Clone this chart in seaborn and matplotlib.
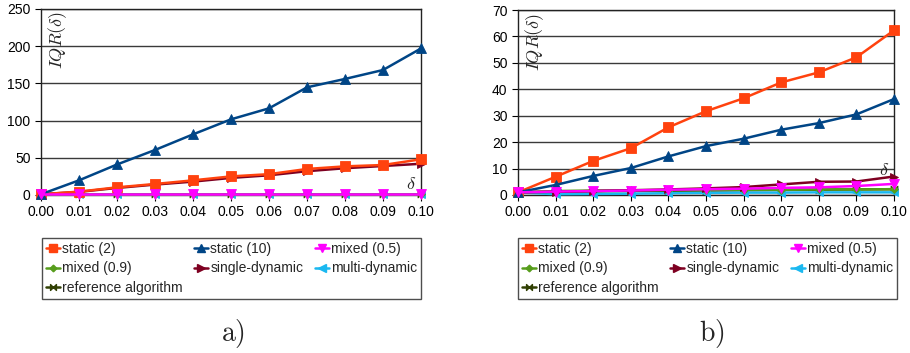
import numpy as np
import pandas as pd
import matplotlib
matplotlib.use("Agg")
import matplotlib.pyplot as plt
from matplotlib.path import Path
from matplotlib.lines import Line2D
import seaborn as sns

delta = [0.00, 0.01, 0.02, 0.03, 0.04, 0.05, 0.06, 0.07, 0.08, 0.09, 0.10]
series_names = ["static (2)", "static (10)", "mixed (0.5)", "mixed (0.9)",
                "single-dynamic", "multi-dynamic", "reference algorithm"]

# panel a
a_static2 = [1, 4.5, 10.3, 14.8, 19.7, 25, 28, 35, 38.5, 40.3, 48]
a_static10 = [1, 19.7, 41, 60.5, 81.5, 101.7, 116.5, 144.7, 156, 168, 197]
a_mixed05 = [1, 1, 1, 1, 1, 1, 1, 1, 1, 1, 1]
a_mixed09 = [1, 1, 1, 1, 1, 1, 1, 1, 1, 1, 1]
a_single = [1, 4.2, 9.5, 14, 18, 23, 26.5, 32, 36, 39, 42]
a_multi = [1, 0.8, 0.8, 0.8, 0.8, 0.8, 0.8, 0.8, 0.8, 0.8, 0.8]
a_ref = [1, 1, 1, 1, 1, 1, 1, 1, 1, 1, 1]

# panel b
b_static2 = [1.0, 6.9, 12.9, 17.7, 25.6, 31.7, 36.6, 42.6, 46.4, 52.1, 62.3]
b_static10 = [1.0, 3.8, 7.2, 10.2, 14.6, 18.5, 21.3, 24.7, 27.2, 30.5, 36.3]
b_mixed05 = [1.0, 1.3, 1.5, 1.7, 2.0, 2.2, 2.4, 2.7, 2.9, 3.4, 4.2]
b_mixed09 = [1.0, 1.5, 1.7, 1.8, 1.8, 1.9, 2.0, 2.0, 2.1, 2.1, 2.2]
b_single = [1.0, 1.2, 1.5, 1.8, 2.1, 2.5, 3.0, 4.0, 5.0, 5.1, 7.0]
b_multi = [1.0, 0.3, 0.4, 0.5, 0.7, 0.8, 0.9, 0.9, 1.0, 1.0, 1.0]
b_ref = [1.0, 1.2, 1.4, 1.5, 1.6, 1.7, 1.8, 1.9, 2.0, 2.1, 2.2]

a_yticks = [0, 50, 100, 150, 200, 250]
b_yticks = [0, 10, 20, 30, 40, 50, 60, 70]
xtick_labels = ["0.00", "0.01", "0.02", "0.03", "0.04", "0.05", "0.06",
                "0.07", "0.08", "0.09", "0.10"]

bowtie = Path([(-1, -1), (-1, 1), (1, -1), (1, 1), (-1, -1)],
              [Path.MOVETO, Path.LINETO, Path.LINETO, Path.LINETO, Path.CLOSEPOLY])

colors = ["#ff420e", "#004586", "#ff00ff", "#579d1c", "#7e0021", "#1ab8f0", "#314004"]
markers = ["s", "^", "v", "D", ">", "<", bowtie]
msizes = [7.5, 6.5, 6.5, 4, 6, 6, 5]

sns.set_theme(style="white")
plt.rcParams["font.family"] = ["Liberation Sans", "DejaVu Sans"]
plt.rcParams["mathtext.fontset"] = "cm"

fig = plt.figure(figsize=(9.10, 3.53), dpi=100)
ax_a = fig.add_axes([41/910, 1-195/353, 380/910, 186/353])
ax_b = fig.add_axes([518/910, 1-195/353, 376/910, 185/353])


def draw(ax, data, yticks, ymax, ylabel_pos, delta_pos):
    frames = []
    for name, vals in zip(series_names, data):
        frames.append(pd.DataFrame({"delta": delta, "value": vals, "series": name}))
    df = pd.concat(frames, ignore_index=True)
    order = [6, 5, 3, 4, 0, 1, 2]  # draw order: bottom first
    for k, i in enumerate(order):
        name = series_names[i]
        sub = df[df["series"] == name]
        sns.lineplot(data=sub, x="delta", y="value", ax=ax, color=colors[i],
                     marker=markers[i], markersize=msizes[i], markeredgewidth=0.6,
                     markeredgecolor=colors[i], linewidth=1.8,
                     clip_on=False, zorder=3 + k * 0.1, legend=False)
    ax.set_xlim(0, 0.10)
    ax.set_ylim(0, ymax)
    ax.set_xticks(delta)
    ax.set_xticklabels(xtick_labels)
    ax.set_yticks(yticks)
    ax.set_yticklabels([str(t) for t in yticks])
    ax.grid(axis="y", color="#3a3a3a", linewidth=1.0)
    ax.grid(axis="x", visible=False)
    for sp in ax.spines.values():
        sp.set_color("#222222")
        sp.set_linewidth(1.0)
    ax.tick_params(axis="both", labelsize=10, colors="black", length=4,
                   width=0.8, direction="out", left=True, bottom=True)
    ax.set_xlabel("")
    ax.set_ylabel("")
    ax.text(ylabel_pos[0], ylabel_pos[1], r"$IQR(\delta)$", transform=ax.transAxes,
            rotation=90, fontsize=13, ha="center", va="top")
    ax.text(delta_pos[0], delta_pos[1], r"$\delta$", transform=ax.transAxes,
            fontsize=13, ha="center", va="center")


data_a = [a_static2, a_static10, a_mixed05, a_mixed09, a_single, a_multi, a_ref]
data_b = [b_static2, b_static10, b_mixed05, b_mixed09, b_single, b_multi, b_ref]
draw(ax_a, data_a, a_yticks, 250, (0.045, 0.99), (0.975, 0.055))
draw(ax_b, data_b, b_yticks, 70, (0.045, 0.985), (0.975, 0.135))

fig.text(233/910, 1-333/353, r"$\mathrm{a)}$", fontsize=20, ha="center", va="center")
fig.text(712/910, 1-333/353, r"$\mathrm{b)}$", fontsize=20, ha="center", va="center")

# legends
handles = [Line2D([0], [0], color=colors[i], marker=markers[i], markersize=msizes[i] * 0.85,
                  markeredgecolor=colors[i], linewidth=1.8) for i in range(7)]
leg_order = [0, 3, 6, 1, 4, 2, 5]
for x0 in (42, 518):
    leg = fig.legend([handles[i] for i in leg_order], [series_names[i] for i in leg_order],
                     ncol=3, loc="upper left", mode="expand",
                     bbox_to_anchor=(x0/910, 1-300/353, 379/910, 62/353),
                     borderaxespad=0.0,
                     fontsize=10, handlelength=1.0, handletextpad=0.15,
                     columnspacing=0.5, labelspacing=0.38, borderpad=0.3,
                     frameon=True, fancybox=False, edgecolor="#222222")
    leg.get_frame().set_linewidth(1.0)

fig.savefig("out.png", dpi=100)
